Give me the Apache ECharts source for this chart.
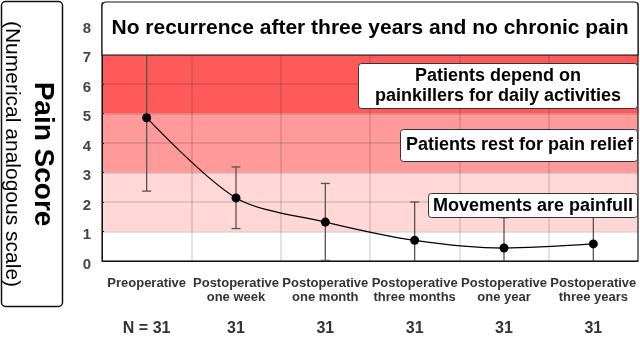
<!DOCTYPE html>
<html>
<head>
<meta charset="utf-8">
<script src="https://cdn.jsdelivr.net/npm/echarts@6/dist/echarts.min.js"></script>
<style>html,body{margin:0;padding:0;background:#fff}#c{width:640px;height:337px}</style>
</head>
<body>
<div id="c"></div>
<script>
const categories = ['Preoperative', 'Postoperative\none week', 'Postoperative\none month', 'Postoperative\nthree months', 'Postoperative\none year', 'Postoperative\nthree years'];
const nLabels = ['N = 31', '31', '31', '31', '31', '31'];
const meanScore = [4.86, 2.14, 1.32, 0.70, 0.44, 0.58];
const errUpper = [7.36, 3.19, 2.63, 2.00, 1.47, 1.60];
const errLower = [2.37, 1.10, 0.02, -0.60, -0.55, -0.40];
const bandRanges = [[1, 3], [3, 5], [5, 7]];
const bandColors = ['#ffd7d7', '#ff9a9a', '#ff5a5a'];
const yTicks = [0, 1, 2, 3, 4, 5, 6, 7, 8];
const topNote = 'No recurrence after three years and no chronic pain';
const notes = ['Patients depend on\npainkillers for daily activities', 'Patients rest for pain relief', 'Movements are painfull'];
const yTitle = 'Pain Score';
const ySubTitle = '(Numerical analogous scale)';

const FONT = '"Liberation Sans", Arial, sans-serif';
const chart = echarts.init(document.getElementById('c'), null, {renderer: 'canvas'});

const errData = categories.map((c, i) => [i, errLower[i], errUpper[i]]);

const option = {
  animation: false,
  backgroundColor: '#fff',
  grid: {left: 102, right: 2, top: 3, bottom: 72, show: true, borderColor: '#111', borderWidth: 1, backgroundColor: 'transparent', z: 1},
  xAxis: [{
    type: 'category', data: categories, boundaryGap: true, z: 2,
    axisLine: {show: true, lineStyle: {color: '#111', width: 1}},
    axisTick: {show: false},
    splitLine: {show: true, interval: 0, lineStyle: {color: 'rgba(0,0,0,0.15)', width: 1.5}},
    axisLabel: {interval: 0, margin: 15, fontFamily: FONT, fontWeight: 'bold', fontSize: 13, lineHeight: 14, color: '#333'}
  }, {
    type: 'category', data: nLabels, position: 'bottom', offset: 52,
    axisLine: {show: false}, axisTick: {show: false}, splitLine: {show: false},
    axisLabel: {interval: 0, margin: 8, fontFamily: FONT, fontWeight: 'bold', fontSize: 16, lineHeight: 16, color: '#333'}
  }],
  yAxis: {
    type: 'value', min: 0, max: 8.75, interval: 1, z: 2,
    axisLine: {show: true, lineStyle: {color: '#111'}},
    axisTick: {show: true, inside: true, length: 2, lineStyle: {color: '#111'}},
    splitLine: {show: true, lineStyle: {color: 'rgba(0,0,0,0.15)', width: 1.5}},
    axisLabel: {showMaxLabel: false, margin: 11, verticalAlign: 'top', lineHeight: 7, fontFamily: FONT, fontWeight: 'bold', fontSize: 15, color: '#444',
      formatter: v => (yTicks.indexOf(v) >= 0 ? String(v) : '')}
  },
  series: [{
    type: 'line', data: meanScore, symbol: 'none', lineStyle: {width: 0, opacity: 0}, z: -1, silent: true,
    markArea: {silent: true, z: -1, label: {show: false},
      data: bandRanges.map((r, i) => [{yAxis: r[0], itemStyle: {color: bandColors[i], opacity: 1}}, {yAxis: r[1]}])}
  }, {
    type: 'custom', data: errData, z: 3, clip: true,
    renderItem: function (params, api) {
      const x = api.value(0);
      const lo = api.coord([x, api.value(1)]);
      const hi = api.coord([x, api.value(2)]);
      const cw = 4.5;
      const st = {stroke: '#5a5252', lineWidth: 1.3};
      return {type: 'group', children: [
        {type: 'line', shape: {x1: hi[0], y1: hi[1], x2: lo[0], y2: lo[1]}, style: st},
        {type: 'line', shape: {x1: hi[0] - cw, y1: hi[1], x2: hi[0] + cw, y2: hi[1]}, style: st},
        {type: 'line', shape: {x1: lo[0] - cw, y1: lo[1], x2: lo[0] + cw, y2: lo[1]}, style: st}
      ]};
    }
  }, {
    type: 'line', data: meanScore, smooth: 0.3, z: 4,
    symbol: 'circle', symbolSize: 9, itemStyle: {color: '#000'},
    lineStyle: {color: '#000', width: 1.2}
  }],
  graphic: [
    {type: 'rect', z: 100, shape: {x: 1.5, y: 1.5, width: 61, height: 305, r: 4}, style: {fill: 'none', stroke: '#111', lineWidth: 1.5}},
    {type: 'text', z: 101, x: 43, y: 154, rotation: -Math.PI / 2,
      style: {text: yTitle, font: 'bold 28px ' + FONT, fill: '#000', align: 'center', verticalAlign: 'middle'}},
    {type: 'text', z: 101, x: 12, y: 154, rotation: -Math.PI / 2,
      style: {text: ySubTitle, font: '21px ' + FONT, fill: '#000', align: 'center', verticalAlign: 'middle'}},
    {type: 'rect', z: 100, shape: {x: 102, y: 2, width: 536, height: 53, r: [4, 4, 0, 0]}, style: {fill: '#fff', stroke: '#111', lineWidth: 1.2}},
    {type: 'text', z: 101, x: 370, y: 28, style: {text: topNote, font: 'bold 21px ' + FONT, fill: '#000', align: 'center', verticalAlign: 'middle'}},
    {type: 'rect', z: 100, shape: {x: 358.5, y: 63.5, width: 279, height: 45, r: 3}, style: {fill: '#fff', stroke: '#333', lineWidth: 1}},
    {type: 'text', z: 101, x: 498, y: 86.5, style: {text: notes[0], font: 'bold 18px ' + FONT, lineHeight: 20, fill: '#000', align: 'center', verticalAlign: 'middle'}},
    {type: 'rect', z: 100, shape: {x: 400.5, y: 129.5, width: 237, height: 32, r: 3}, style: {fill: '#fff', stroke: '#333', lineWidth: 1}},
    {type: 'text', z: 101, x: 519.5, y: 145, style: {text: notes[1], font: 'bold 18px ' + FONT, fill: '#000', align: 'center', verticalAlign: 'middle'}},
    {type: 'rect', z: 100, shape: {x: 428.5, y: 193.5, width: 209, height: 24, r: 3}, style: {fill: '#fff', stroke: '#333', lineWidth: 1}},
    {type: 'text', z: 101, x: 533, y: 206, style: {text: notes[2], font: 'bold 18px ' + FONT, fill: '#000', align: 'center', verticalAlign: 'middle'}}
  ]
};
chart.setOption(option);
</script>
</body>
</html>
